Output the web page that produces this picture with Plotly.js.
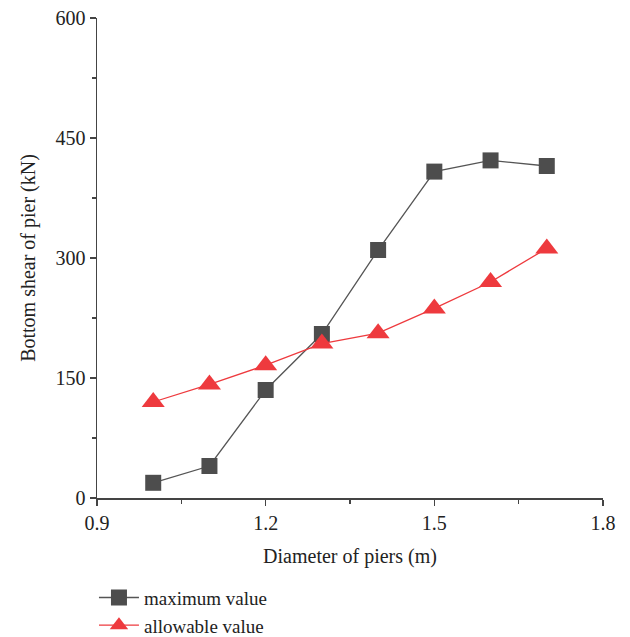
<!DOCTYPE html>
<html>
<head>
<meta charset="utf-8">
<script src="https://cdn.plot.ly/plotly-3.0.1.min.js"></script>
<style>html,body{margin:0;padding:0;background:#fff;}#chart{width:630px;height:637px;}</style>
</head>
<body>
<div id="chart"></div>
<script>
const diameters = [1.0, 1.1, 1.2, 1.3, 1.4, 1.5, 1.6, 1.7];
const maximumValue = [19, 40, 135, 205, 310, 408, 422, 415];
const allowableValue = [120, 142, 166, 193, 206, 237, 270, 312];
const xTicks = [0.9, 1.2, 1.5, 1.8];
const yTicks = [0, 150, 300, 450, 600];

const font = {family: '"Liberation Serif", "DejaVu Serif", serif', size: 20, color: '#222'};
const legendFont = {family: '"Liberation Serif", "DejaVu Serif", serif', size: 19, color: '#222'};

const traces = [
  {
    x: diameters, y: maximumValue, name: 'maximum value',
    type: 'scatter', mode: 'lines+markers',
    line: {color: '#555555', width: 1.3},
    marker: {symbol: 'square', size: 16, color: '#4d4d4d'}
  },
  {
    x: diameters, y: allowableValue, name: 'allowable value',
    type: 'scatter', mode: 'lines+markers',
    line: {color: '#ee3a3e', width: 1.3},
    marker: {symbol: 'triangle-up', size: 20, color: '#ee3a3e'}
  }
];

const axisCommon = {
  showgrid: false, zeroline: false, showline: true,
  linecolor: '#444', linewidth: 1.5,
  ticks: 'outside', ticklen: 6, tickwidth: 1.3, tickcolor: '#444',
  tickfont: font
};

const layout = {
  width: 630, height: 637,
  margin: {l: 97, r: 27, t: 18, b: 139, autoexpand: false},
  paper_bgcolor: '#fff', plot_bgcolor: '#fff',
  font: font,
  showlegend: true,
  legend: {
    x: -0.006, xanchor: 'left', y: -0.168, yanchor: 'top',
    font: legendFont, tracegroupgap: 0, itemwidth: 40,
    bgcolor: 'rgba(0,0,0,0)'
  },
  xaxis: Object.assign({}, axisCommon, {
    range: [0.9, 1.8], tickvals: xTicks, ticktext: xTicks.map(v => v.toFixed(1)),
    minor: {ticks: 'outside', tickvals: [1.05, 1.35, 1.65], ticklen: 4, tickwidth: 1.2, tickcolor: '#444'},
    title: {text: 'Diameter of piers (m)', font: font, standoff: 16}
  }),
  yaxis: Object.assign({}, axisCommon, {
    range: [0, 600], tickvals: yTicks, ticktext: yTicks.map(String),
    minor: {ticks: 'outside', tickvals: [75, 225, 375, 525], ticklen: 4, tickwidth: 1.2, tickcolor: '#444'},
    title: {text: 'Bottom shear of pier (kN)', font: font, standoff: 14}
  })
};

Plotly.newPlot('chart', traces, layout, {displayModeBar: false, staticPlot: true});
</script>
</body>
</html>
